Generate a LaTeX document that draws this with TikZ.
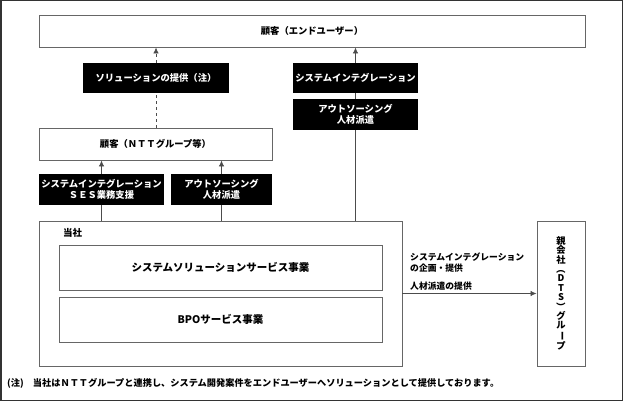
\documentclass[tikz,border=0pt]{standalone}
\usepackage{fontspec}
\setmainfont{Noto Sans CJK JP}
\usetikzlibrary{arrows.meta}

\begin{document}
\begin{tikzpicture}[x=1pt,y=-1pt]
\tikzstyle{whitebox} = [draw=black!60, fill=white, line width=0.9pt, inner sep=0pt, align=center, font=\fontsize{9.3}{11}\selectfont\bfseries]
\tikzstyle{blackbox} = [fill=black, text=white, inner sep=0pt, align=center, font=\fontsize{9.3}{11}\selectfont\bfseries]
\tikzstyle{edge} = [draw=black!70, line width=0.8pt]
\tikzstyle{arrow} = [edge, -{Latex[length=6pt,width=5.5pt]}]
\tikzstyle{dashline} = [edge, dash pattern=on 3pt off 3pt]
\tikzstyle{note} = [inner sep=0pt, align=left, font=\fontsize{8.8}{11}\selectfont\bfseries]

\useasboundingbox (0,0) rectangle (624,401);
\draw[black!80, line width=1.5pt] (0.75,0.75) rectangle (622.5,400.25);

\node[whitebox, minimum width=546pt, minimum height=32pt] (enduser) at (312,31) {顧客（エンドユーザー）};
\node[blackbox, minimum width=146pt, minimum height=30pt] (solution) at (156,78) {ソリューションの提供（注）};
\node[whitebox, minimum width=233pt, minimum height=32pt] (nttcust) at (155.5,144) {顧客（ＮＴＴグループ等）};
\node[blackbox, minimum width=125pt, minimum height=31pt] (ses) at (101.5,189.5) {システムインテグレーション\\ＳＥＳ業務支援};
\node[blackbox, minimum width=101pt, minimum height=31pt] (outsrc1) at (221.5,189.5) {アウトソーシング\\人材派遣};
\node[blackbox, minimum width=125pt, minimum height=30pt] (sysint) at (355.5,78) {システムインテグレーション};
\node[blackbox, minimum width=125pt, minimum height=31pt] (outsrc2) at (355.5,114.5) {アウトソーシング\\人材派遣};

\node[whitebox, minimum width=363pt, minimum height=145pt] (tosha) at (220.5,293.5) {};
\node[note, font=\fontsize{9.5}{11}\selectfont\bfseries] (toshalbl) at (72.5,233) {当社};
\node[whitebox, minimum width=323pt, minimum height=45pt, font=\fontsize{10.5}{12}\selectfont\bfseries] (sysol) at (220.5,267.5) {システムソリューションサービス事業};
\node[whitebox, minimum width=323pt, minimum height=45pt, font=\fontsize{10.5}{12}\selectfont\bfseries] (bpo) at (220.5,319.5) {BPOサービス事業};

\node[whitebox, minimum width=48pt, minimum height=145pt, font=\fontsize{9.3}{9.4}\selectfont\bfseries] (parent) at (561,293.5)
  {親\\会\\社\\\rotatebox[origin=c]{-90}{（}\\D\\T\\S\\\rotatebox[origin=c]{-90}{）}\\グ\\ル\\\rotatebox[origin=c]{-90}{ー}\\プ};

\node[note, anchor=west] (planlbl) at (410,262.5) {システムインテグレーション\\の企画・提供};
\node[note, anchor=west] (staffinglbl) at (410,286) {人材派遣の提供};
\node[note, anchor=west, font=\fontsize{9.2}{11}\selectfont\bfseries] (footnote) at (7,383) {(注)　当社はＮＴＴグループと連携し、システム開発案件をエンドユーザーへソリューションとして提供しております。};

\draw[dashline] (nttcust.north -| solution) to (solution.south);
\draw[dashline, arrow] (solution.north) to (solution.north |- enduser.south);
\draw[edge] (tosha.north -| ses) to (ses.south);
\draw[arrow] (ses.north) to (ses.north |- nttcust.south);
\draw[edge] (tosha.north -| outsrc1) to (outsrc1.south);
\draw[arrow] (outsrc1.north) to (outsrc1.north |- nttcust.south);
\draw[edge] (tosha.north -| outsrc2) to (outsrc2.south);
\draw[edge] (outsrc2.north) to (sysint.south);
\draw[arrow] (sysint.north) to (sysint.north |- enduser.south);
\draw[arrow] (tosha.east) to (parent.west);
\end{tikzpicture}
\end{document}
